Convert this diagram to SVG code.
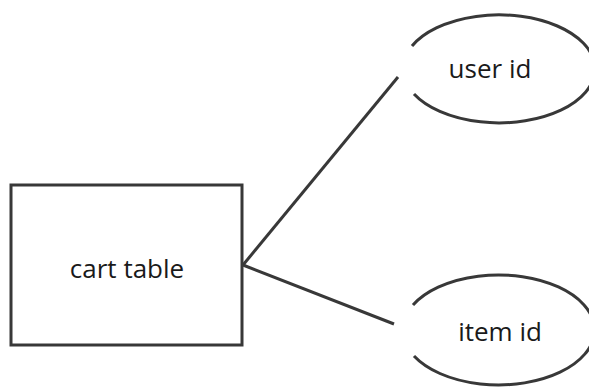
<svg xmlns="http://www.w3.org/2000/svg" width="589" height="388" viewBox="0 0 589 388">
<style>
.shape{fill:none;stroke:#383838;stroke-width:3}
.conn{stroke:#383838;stroke-width:3;fill:none}
.lbl{font-family:"Open Sans","Noto Sans","Liberation Sans",sans-serif;font-size:26px;fill:#1a1a1a;text-anchor:middle}
</style>
<rect width="589" height="388" fill="#ffffff"/>
<g id="connectors">
<line class="conn" x1="243" y1="265" x2="398" y2="77"/>
<line class="conn" x1="243" y1="265" x2="394" y2="324"/>
</g>
<g id="cart-table">
<rect class="shape" x="11" y="185" width="231" height="160"/>
<text class="lbl" x="127" y="278">cart table</text>
</g>
<g id="user-id">
<path class="shape" d="M412,46 A96 54 0 1 1 414,94"/>
<text class="lbl" x="490" y="78">user id</text>
</g>
<g id="item-id">
<path class="shape" d="M413,305 A96 55 0 1 1 414,356"/>
<text class="lbl" x="500" y="341">item id</text>
</g>
</svg>
